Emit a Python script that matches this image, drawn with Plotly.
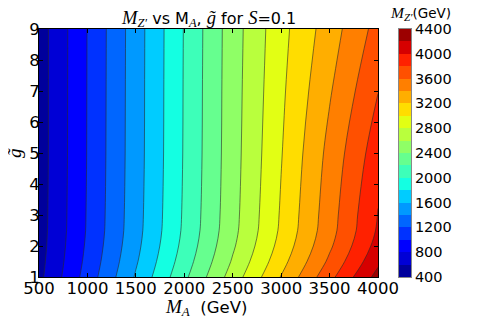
import numpy as np
import plotly.graph_objects as go

# M_A (GeV) columns and g-tilde rows of the grid
m_a = [500, 1000, 1500, 2000, 2500, 3000, 3500, 4000]
g_tilde = [1, 1.5, 2, 2.5, 3, 5, 7, 9]

# M_Z' (GeV), one list per g-tilde row
mzp_g1 = [548, 1085, 1621, 2156, 2690, 3211, 3738, 4272]
mzp_g1_5 = [531, 1054, 1577, 2100, 2621, 3128, 3638, 4157]
mzp_g2 = [518, 1033, 1546, 2060, 2572, 3069, 3567, 4076]
mzp_g2_5 = [511, 1019, 1527, 2036, 2542, 3033, 3524, 4026]
mzp_g3 = [508, 1015, 1521, 2028, 2532, 3021, 3510, 4010]
mzp_g5 = [502, 1008, 1511, 2016, 2517, 2989, 3459, 3915]
mzp_g7 = [502, 1006, 1509, 2013, 2512, 2962, 3380, 3795]
mzp_g9 = [502, 1004, 1507, 2010, 2507, 2936, 3303, 3673]

mzp = [mzp_g1, mzp_g1_5, mzp_g2, mzp_g2_5, mzp_g3, mzp_g5, mzp_g7, mzp_g9]

LEV_START, LEV_END, LEV_STEP = 400, 4400, 200
CB_TICKS = [400, 800, 1200, 1600, 2000, 2400, 2800, 3200, 3600, 4000, 4400]

SANS = "DejaVu Sans"
SERIF = "Liberation Serif"


def jet(t):
    # matplotlib 'jet' segment data
    r = np.interp(t, [0, 0.35, 0.66, 0.89, 1], [0, 0, 1, 1, 0.5])
    g = np.interp(t, [0, 0.125, 0.375, 0.64, 0.91, 1], [0, 0, 1, 1, 0, 0])
    b = np.interp(t, [0, 0.11, 0.34, 0.65, 1], [0.5, 1, 1, 0, 0])
    return f"rgb({int(r * 255)},{int(g * 255)},{int(b * 255)})"


band_mids = list(np.arange(LEV_START + LEV_STEP / 2, LEV_END, LEV_STEP))
span = LEV_END - LEV_START

# contour: plotly fills band [L, L+step] with colour at L+step/2,
# scale position 0 -> start-step/2, 1 -> end+step/2
lo = LEV_START - LEV_STEP / 2
hi = LEV_END + LEV_STEP / 2
cont_scale = [[0, jet(0)]]
for mid in band_mids:
    cont_scale.append([(mid - lo) / (hi - lo), jet((mid - LEV_START) / span)])
cont_scale.append([1, jet(1)])

# colour bar drawn as a one-column heatmap, scale maps zmin..zmax directly
bar_scale = [[0, jet(0)]]
for mid in band_mids:
    bar_scale.append([(mid - LEV_START) / span, jet((mid - LEV_START) / span)])
bar_scale.append([1, jet(1)])


def it(s, size):
    return f'<span style="font-family:{SERIF};font-style:italic;font-size:{size}px">{s}</span>'


fig = go.Figure()
fig.add_trace(go.Contour(
    x=m_a,
    y=g_tilde,
    z=mzp,
    colorscale=cont_scale,
    contours=dict(start=LEV_START, end=LEV_END, size=LEV_STEP, coloring="fill"),
    line=dict(color="rgba(40,40,40,0.85)", width=0.7, smoothing=1),
    showscale=False,
    hoverinfo="skip",
))
fig.add_trace(go.Heatmap(
    x=[0],
    y=band_mids,
    z=[[m] for m in band_mids],
    zmin=LEV_START, zmax=LEV_END,
    colorscale=bar_scale,
    showscale=False,
    hoverinfo="skip",
    xaxis="x2", yaxis="y2",
))

# page body has an 8px margin: figure is 483x319, plot area 31..370 px (bar 391..403), 21..269 px
L, R, T, B = 31, 403, 21, 269
W = R - L
axis_common = dict(showline=True, linecolor="black", linewidth=1, showgrid=False,
                   zeroline=False, mirror="ticks", ticks="inside", ticklen=4,
                   tickcolor="black", tickfont=dict(family=SANS, size=16.5, color="black"),
                   automargin=False)

fig.update_layout(
    xaxis=dict(domain=[0, (370 - L) / W], range=[500, 4000], tick0=500, dtick=500,
               ticklabelstandoff=-4, **axis_common),
    yaxis=dict(range=[1, 9], tick0=1, dtick=1, ticklabelstandoff=-5, **axis_common),
    xaxis2=dict(domain=[(391 - L) / W, 1], range=[-0.5, 0.5], anchor="y2",
                showticklabels=False, ticks="", showline=True, mirror=True,
                linecolor="#888", linewidth=1, showgrid=False, zeroline=False),
    yaxis2=dict(range=[LEV_START, LEV_END], anchor="x2", side="right",
                tickvals=CB_TICKS, ticks="", showline=True, mirror=True,
                linecolor="#888", linewidth=1, showgrid=False, zeroline=False,
                tickfont=dict(family=SANS, size=14.5, color="black"),
                automargin=False),
    width=483, height=319,
    margin=dict(l=L, r=483 - R, t=T, b=319 - B, autoexpand=False),
    paper_bgcolor="white", plot_bgcolor="white",
    font=dict(family=SANS, color="black"),
    showlegend=False,
)

title = (it("M", 18.5) + "<sub>" + it("Z′", 12.5) + "</sub> vs M<sub>" + it("A", 12.5) + "</sub>, "
         + it("g̃", 18.5) + " for " + it("S", 18.5) + "=0.1")
cb_title = it("M", 15.5) + "<sub>" + it("Z′", 11) + "</sub>(GeV)"
x_title = it("M", 19) + "<sub>" + it("A", 13) + "</sub>  (GeV)"

fig.add_annotation(text=title, x=0.5, y=1.0, xref="x domain", yref="paper",
                   xanchor="center", yanchor="bottom", yshift=-3, showarrow=False,
                   font=dict(family=SANS, size=16, color="black"))
fig.add_annotation(text=cb_title, x=(412 - L) / W, y=1.0, xref="paper", yref="paper",
                   xanchor="center", yanchor="bottom", yshift=4, showarrow=False,
                   font=dict(family=SANS, size=13.5, color="black"))
fig.add_annotation(text=x_title, x=0.5, y=0, xref="x domain", yref="paper",
                   xanchor="center", yanchor="top", yshift=-17, xshift=-3, showarrow=False,
                   font=dict(family=SANS, size=16.5, color="black"))
fig.add_annotation(text=it("g̃", 19), x=(6 - L) / W, y=0.5, xref="paper", yref="paper",
                   xanchor="center", yanchor="middle", showarrow=False,
                   textangle=-90, font=dict(family=SANS, size=16.5, color="black"))

fig.write_html("out.html")
